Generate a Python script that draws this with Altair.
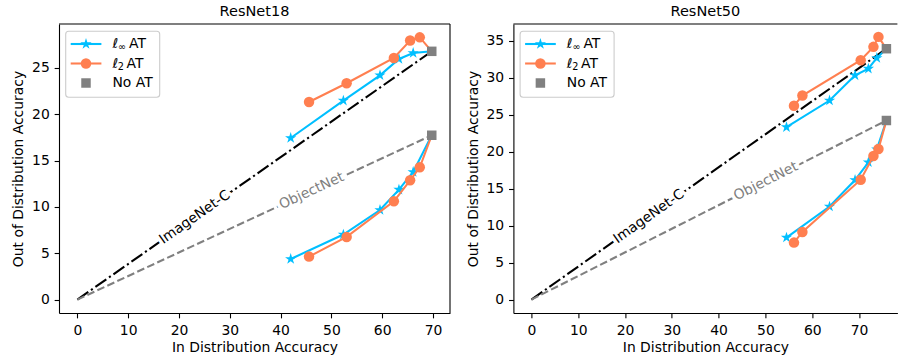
import math
import altair as alt
import pandas as pd

FONT = "DejaVu Sans"
BLUE = "#00BFFF"
ORANGE = "#FF7F50"
GRAY = "#808080"

# ---------------- data ----------------
# ResNet18 : in-distribution acc, ImageNet-C acc, ObjectNet acc
r18_linf_id = [41.99, 52.36, 59.57, 63.3, 66.1]
r18_linf_inc = [17.44, 21.48, 24.21, 25.97, 26.62]
r18_linf_obj = [4.38, 7.02, 9.67, 11.87, 13.77]
r18_l2_id = [45.6, 53.0, 62.3, 65.5, 67.4]
r18_l2_inc = [21.33, 23.35, 26.08, 27.96, 28.31]
r18_l2_obj = [4.64, 6.76, 10.61, 12.88, 14.28]
r18_noat = [69.76, 26.8, 17.74]

# ResNet50
r50_linf_id = [54.5, 63.7, 69.15, 72.0, 73.8]
r50_linf_inc = [23.3, 26.9, 30.3, 31.2, 32.65]
r50_linf_obj = [8.38, 12.57, 16.16, 18.55, 20.3]
r50_l2_id = [56.1, 57.9, 70.36, 73.08, 74.15]
r50_l2_inc = [26.2, 27.57, 32.35, 34.15, 35.5]
r50_l2_obj = [7.7, 9.14, 16.2, 19.4, 20.35]
r50_noat = [75.85, 33.9, 24.2]

x_ticks = [0, 10, 20, 30, 40, 50, 60, 70]
r18_y_ticks = [0, 5, 10, 15, 20, 25]
r50_y_ticks = [0, 5, 10, 15, 20, 25, 30, 35]

ood_names = ["ImageNet-C", "ObjectNet"]
# in-distribution accuracy at which each line label sits
r18_label_at = [23.1, 46.1]
r50_label_at = [25.1, 50.1]

# ---------------- layout / style ----------------
H = 289
W18, W50 = 391, 384
r18_xdom, r18_ydom = [-3.62, 73.35], [-1.45, 29.75]
r50_xdom, r50_ydom = [-3.85, 78.2], [-1.81, 37.24]
LW = 2.08
DASHDOT = [13.3, 3.3, 2.1, 3.3]
DASHED = [7.7, 3.3]
FS = 13.9
FRAME = "#000000"
FW = 1.1

pts = []
for k in range(10):
    r = 1.0 if k % 2 == 0 else 0.382
    a = math.radians(-90 + 36 * k)
    pts.append((r * math.cos(a), r * math.sin(a)))
STAR = "M" + " L".join(f"{px:.3f},{py:.3f}" for px, py in pts) + " Z"

ONE = pd.DataFrame({"k": [0]})


def panel(name, linf_id, linf_inc, linf_obj, l2_id, l2_inc, l2_obj, noat,
          y_ticks, label_at, xdom, ydom, width, right_spine):
    X = alt.X("x:Q", scale=alt.Scale(domain=xdom, nice=False, zero=False),
              axis=alt.Axis(values=x_ticks, title="In Distribution Accuracy",
                            labelPadding=5.5, titleY=38.4, titleBaseline="alphabetic"))
    Y = alt.Y("y:Q", scale=alt.Scale(domain=ydom, nice=False, zero=False),
              axis=alt.Axis(values=y_ticks, title="Out of Distribution Accuracy",
                            labelPadding=4.86, titleX=-36.3, titleY=H / 2,
                            titleBaseline="alphabetic", titleAngle=270))
    nx, n_inc, n_obj = noat
    layers = []
    refs = [(ood_names[0], n_inc, "#000000", DASHDOT, label_at[0]),
            (ood_names[1], n_obj, GRAY, DASHED, label_at[1])]
    for ood, ny, col, dash, at in refs:
        ref = pd.DataFrame({"x": [0, nx], "y": [0, ny]})
        layers.append(alt.Chart(ref).mark_line(color=col, strokeDash=dash, strokeWidth=LW)
                      .encode(x=X, y=Y))
    for ood, ny, col, dash, at in refs:
        dx = nx / (xdom[1] - xdom[0]) * width
        dy = ny / (ydom[1] - ydom[0]) * H
        ang = 360 - math.degrees(math.atan2(dy, dx))
        lab = pd.DataFrame({"x": [at], "y": [at * ny / nx], "label": [ood]})
        kw = dict(align="center", baseline="middle", angle=ang, font=FONT, fontSize=FS)
        layers.append(alt.Chart(lab).mark_text(color="white", stroke="white", strokeWidth=7,
                                               strokeJoin="round", **kw)
                      .encode(x=X, y=Y, text="label:N"))
        layers.append(alt.Chart(lab).mark_text(color=col, **kw).encode(x=X, y=Y, text="label:N"))

    methods = [(linf_id, linf_inc, linf_obj, BLUE, STAR, 140),
               (l2_id, l2_inc, l2_obj, ORANGE, "circle", 110)]
    for ids, inc, obj, col, shape, size in methods:
        rows, line_rows = [], []
        for ds, ys_, ny in [(ood_names[0], inc, n_inc), (ood_names[1], obj, n_obj)]:
            for i, (xv, yv) in enumerate(zip(ids, ys_)):
                rows.append(dict(x=xv, y=yv, dataset=ds, order=i))
            line_rows.append(dict(x=nx, y=ny, dataset=ds, order=len(ids)))
        pdf = pd.DataFrame(rows)
        ldf = pd.DataFrame(rows + line_rows)
        layers.append(alt.Chart(ldf).mark_line(color=col, strokeWidth=LW)
                      .encode(x=X, y=Y, detail="dataset:N", order="order:Q"))
        layers.append(alt.Chart(pdf).mark_point(shape=shape, filled=True, size=size, color=col,
                                                opacity=1, strokeWidth=0)
                      .encode(x=X, y=Y))
    sq = pd.DataFrame({"x": [nx, nx], "y": [n_inc, n_obj]})
    layers.append(alt.Chart(sq).mark_point(shape="square", filled=True, size=90, color=GRAY,
                                           opacity=1, strokeWidth=0).encode(x=X, y=Y))

    # ---- frame: top spine (and right spine where visible) ----
    layers.append(alt.Chart(ONE).mark_rule(color=FRAME, strokeWidth=FW)
                  .encode(x=alt.value(0), x2=alt.value(width), y=alt.value(0)))
    if right_spine:
        layers.append(alt.Chart(ONE).mark_rule(color=FRAME, strokeWidth=FW)
                      .encode(x=alt.value(width), y=alt.value(0), y2=alt.value(H)))

    # ---- panel title ----
    layers.append(alt.Chart(ONE).mark_text(text=name, font=FONT, fontSize=14.5, align="center",
                                           baseline="alphabetic", color="#000000")
                  .encode(x=alt.value(width / 2), y=alt.value(-8.3)))

    # ---- legend (drawn by hand) ----
    L = []
    L.append(alt.Chart(ONE).mark_rect(fill="white", fillOpacity=0.8, stroke="#cccccc",
                                      strokeWidth=1.1, cornerRadius=3)
             .encode(x=alt.value(6.7), x2=alt.value(100.7), y=alt.value(7.3), y2=alt.value(73.3)))
    r1, r2, r3 = 20, 39.5, 59
    for ry, col, shape, size in [(r1, BLUE, STAR, 140), (r2, ORANGE, "circle", 110)]:
        L.append(alt.Chart(ONE).mark_rule(color=col, strokeWidth=LW)
                 .encode(x=alt.value(11.7), x2=alt.value(42.4), y=alt.value(ry)))
        L.append(alt.Chart(ONE).mark_point(shape=shape, filled=True, size=size, color=col,
                                           opacity=1, strokeWidth=0)
                 .encode(x=alt.value(27), y=alt.value(ry)))
    L.append(alt.Chart(ONE).mark_point(shape="square", filled=True, size=90, color=GRAY,
                                       opacity=1, strokeWidth=0)
             .encode(x=alt.value(27), y=alt.value(r3)))
    tkw = dict(font=FONT, align="left", baseline="middle", color="#000000")
    texts = [("ℓ", 53.4, r1, FS, "italic"), ("∞", 59.0, r1 + 3, 9.7, "normal"),
             ("AT", 70.0, r1, FS, "normal"),
             ("ℓ", 53.4, r2, FS, "italic"), ("2", 58.8, r2 + 3, 9.7, "normal"),
             ("AT", 67.6, r2, FS, "normal"),
             ("No AT", 53.4, r3, FS, "normal")]
    for t, tx, ty, fs, style in texts:
        L.append(alt.Chart(ONE).mark_text(text=t, fontSize=fs, fontStyle=style, **tkw)
                 .encode(x=alt.value(tx), y=alt.value(ty)))

    return alt.layer(*layers, *L).properties(width=width, height=H)


left = panel("ResNet18", r18_linf_id, r18_linf_inc, r18_linf_obj, r18_l2_id, r18_l2_inc,
             r18_l2_obj, r18_noat, r18_y_ticks, r18_label_at, r18_xdom, r18_ydom, W18, True)
right = panel("ResNet50", r50_linf_id, r50_linf_inc, r50_linf_obj, r50_l2_id, r50_l2_inc,
              r50_l2_obj, r50_noat, r50_y_ticks, r50_label_at, r50_xdom, r50_ydom, W50, False)

chart = alt.hconcat(left, right, spacing=63.4, bounds="flush").properties(
    padding={"left": 11, "top": 3, "right": 0, "bottom": 0},
    background="white",
).configure_view(stroke=None).configure_axis(
    grid=False, domain=True, domainColor=FRAME, domainWidth=FW, labelFont=FONT,
    titleFont=FONT, labelFontSize=FS, titleFontSize=FS, titleFontWeight="normal",
    labelColor="#000000", titleColor="#000000", tickColor="#000000", tickSize=4.86,
    tickWidth=1.1, labelFlush=False, labelOverlap=False,
)

chart.save("out.html", embed_options={"renderer": "svg", "actions": False})
